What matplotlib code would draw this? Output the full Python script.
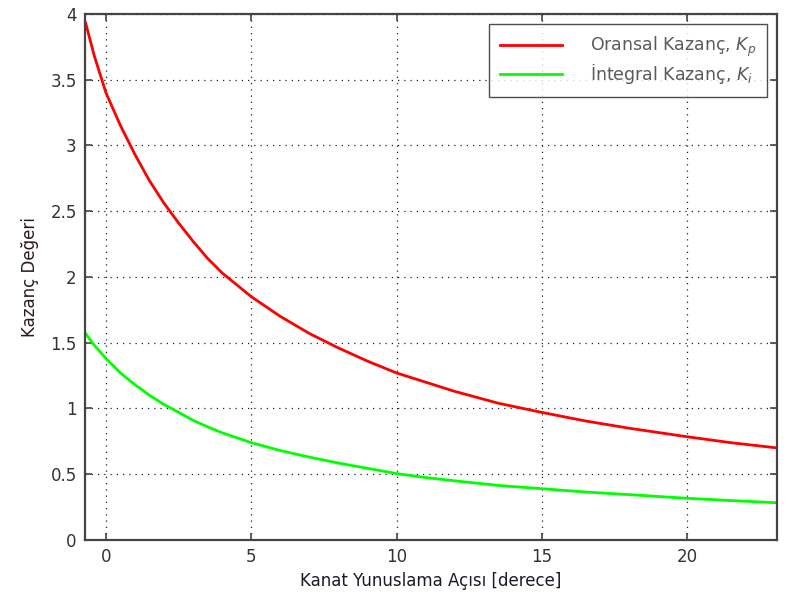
import numpy as np
import matplotlib
matplotlib.use("Agg")
import matplotlib.pyplot as plt

# Gain schedule versus wing pitch angle
pitch_deg = [-0.7, -0.4, 0, 0.5, 1, 1.5, 2, 2.5, 3, 3.5, 4, 5, 6, 7, 8, 9,
             10, 11, 12, 13.5, 15, 16.5, 18, 20, 21.5, 23.1]
kp_values = [3.93, 3.68, 3.40, 3.15, 2.93, 2.73, 2.56, 2.41, 2.27, 2.14,
             2.03, 1.85, 1.70, 1.57, 1.46, 1.36, 1.27, 1.20, 1.13, 1.04,
             0.97, 0.905, 0.85, 0.785, 0.74, 0.70]
ki_values = [1.57, 1.48, 1.38, 1.27, 1.18, 1.10, 1.03, 0.97, 0.91, 0.86,
             0.815, 0.74, 0.68, 0.63, 0.585, 0.545, 0.505, 0.475, 0.45,
             0.415, 0.39, 0.365, 0.345, 0.317, 0.30, 0.283]

x_ticks = [0, 5, 10, 15, 20]
y_ticks = [0, 0.5, 1, 1.5, 2, 2.5, 3, 3.5, 4]
y_tick_labels = ["0", "0.5", "1", "1.5", "2", "2.5", "3", "3.5", "4"]

TXT = "#333333"
AX = "#444444"

fig = plt.figure(figsize=(7.91, 6.02), dpi=100, facecolor="white")
ax = fig.add_axes([0.1075, 0.103, 0.875, 0.874])

ax.plot(pitch_deg, kp_values, color="#ff0000", lw=2.0,
        label=r"Oransal Kazanç, $K_p$")
ax.plot(pitch_deg, ki_values, color="#00ff00", lw=2.0,
        label=r"İntegral Kazanç, $K_i$")

ax.set_xlim(-0.72, 23.1)
ax.set_ylim(0, 4)
ax.set_xticks(x_ticks)
ax.set_yticks(y_ticks)
ax.set_yticklabels(y_tick_labels)

ax.grid(True, color="#222222", linestyle=(0, (1, 4)), linewidth=0.9)
ax.tick_params(direction="in", top=True, right=True, length=5, width=1.2,
               colors=AX, labelcolor=TXT, labelsize=12, pad=6)
for s in ax.spines.values():
    s.set_color(AX)
    s.set_linewidth(1.6)

ax.set_xlabel("Kanat Yunuslama Açısı [derece]", fontsize=12, color="#1a1a2a",
              labelpad=4)
ax.set_ylabel("Kazanç Değeri", fontsize=12, color="#2a1a1a", labelpad=8)

leg = ax.legend(loc="upper right", fontsize=12.5, frameon=True, fancybox=False,
                edgecolor="#222222", handlelength=3.6, borderpad=0.6,
                labelspacing=0.15, handletextpad=1.6, borderaxespad=0.6)
leg.get_frame().set_linewidth(1.0)
for t in leg.get_texts():
    t.set_color("#5a5a5a")

fig.savefig("out.png", dpi=100, facecolor="white")
